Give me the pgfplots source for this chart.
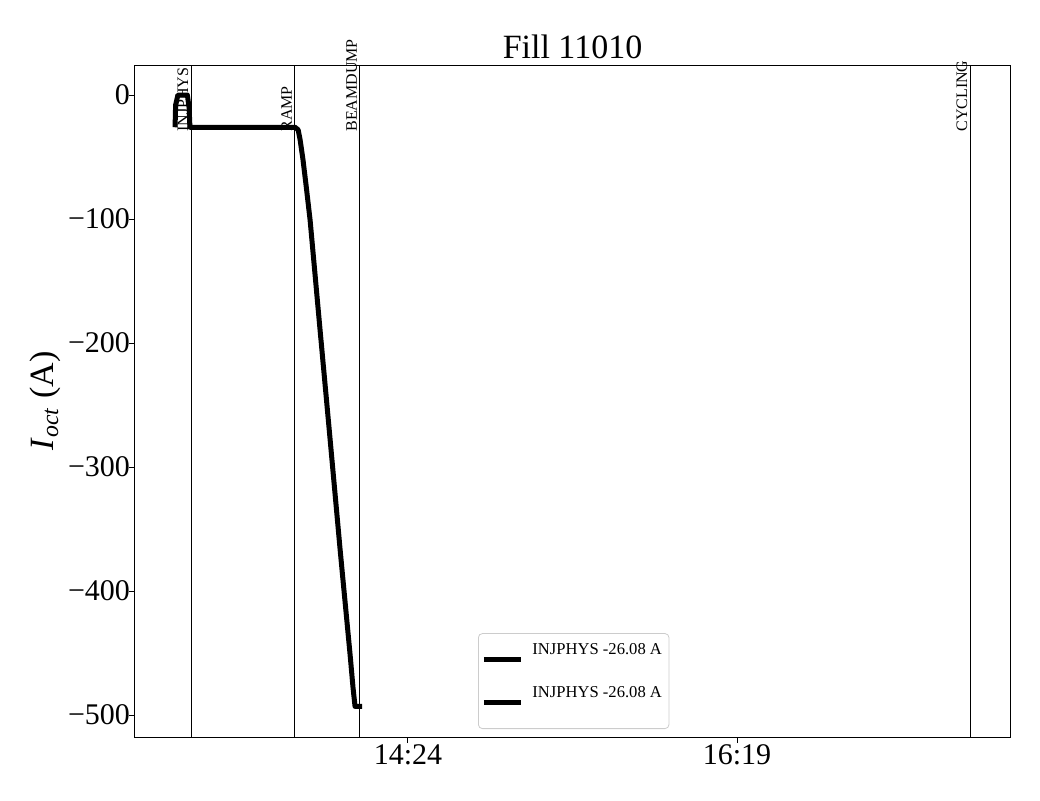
\documentclass[border=0pt]{standalone}
\usepackage{fontspec}
\setmainfont{Liberation Serif}
\usepackage{pgfplots}
\pgfplotsset{compat=1.18}
\begin{document}
\begin{tikzpicture}
\useasboundingbox (-67.5pt,-31.5pt) rectangle (452.5pt,368.5pt);
\begin{axis}[
 at={(0,0)}, anchor=south west,
 scale only axis, width=437.5pt, height=336pt,
 xmin=768.6, xmax=1074.4, ymin=-517.7, ymax=24.2,
 xtick={864,979}, xticklabels={14:24,16:19},
 ytick={-500,-400,-300,-200,-100,0},
 yticklabels={−500,−400,−300,−200,−100,0},
 tick align=outside, xtick pos=bottom, ytick pos=left, major tick length=3pt,
 minor tick num=0,
 tick style={black, line width=0.5pt},
 ticklabel style={font=\fontsize{15}{18}\selectfont},
 yticklabel style={xshift=4pt},
 xticklabel style={yshift=2.5pt},
 title={Fill 11010},
 title style={font=\fontsize{17}{20}\selectfont, at={(axis description cs:0.5,1)}, anchor=base, yshift=-2.5pt},
 ylabel={\textit{I}\textsubscript{\textit{oct}} (A)},
 ylabel style={font=\fontsize{17}{20}\selectfont, at={(axis description cs:-0.103,0.5)}, anchor=center},
 clip=false,
 axis line style={line width=0.5pt},
 legend cell align=left,
 legend style={at={(axis description cs:0.392,0.0119)}, anchor=south west,
   draw=black!20, rounded corners=2pt, font=\fontsize{8.3}{10}\selectfont,
   row sep=1pt, inner xsep=1.5pt, inner ysep=3pt},
 legend image code/.code={\draw[line width=2.5pt, black] (0pt,-4.5pt) -- (18.5pt,-4.5pt); \path (21pt,-13.5pt);},
]
\addplot[black, line width=2.5pt, line join=round] coordinates {
(782.6,-26) (782.8,-8) (783.6,0) (786.9,0) (787.5,-10) (787.8,-26)
(824.5,-26) (825.6,-28) (826.3,-36) (827.3,-52) (828.4,-73) (829.8,-101)
(833.3,-190) (836.8,-278) (840.3,-367) (843.8,-452) (844.8,-478) (845.5,-493)
(848.0,-493)
};
\addlegendentry{INJPHYS -26.08 A}
\addlegendimage{black, line width=2.5pt}
\addlegendentry{INJPHYS -26.08 A}
\addplot[black, line width=0.45pt, forget plot] coordinates {(788.2,-517.7) (788.2,24.2)};
\addplot[black, line width=0.45pt, forget plot] coordinates {(824.5,-517.7) (824.5,24.2)};
\addplot[black, line width=0.45pt, forget plot] coordinates {(847.2,-517.7) (847.2,24.2)};
\addplot[black, line width=0.45pt, forget plot] coordinates {(1060.5,-517.7) (1060.5,24.2)};
\begin{scope}[every node/.style={rotate=90, anchor=base west, inner sep=0pt, font=\fontsize{8}{10}\selectfont}]
\node at (axis cs:787.15,-29.8) {INJPHYS};
\node at (axis cs:823.45,-29.8) {RAMP};
\node at (axis cs:846.15,-29.8) {BEAMDUMP};
\node at (axis cs:1059.45,-29.8) {CYCLING};
\end{scope}
\end{axis}
\end{tikzpicture}
\end{document}
